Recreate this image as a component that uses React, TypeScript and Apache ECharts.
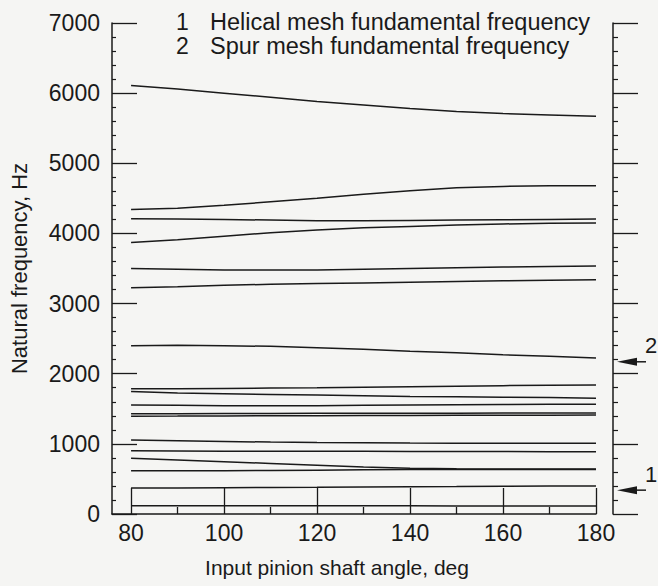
import React, { useEffect, useRef } from "react";
import * as echarts from "echarts";

const angles = [80, 90, 100, 110, 120, 130, 140, 150, 160, 170, 180];

const mode01 = [6110, 6060, 6000, 5940, 5880, 5830, 5780, 5740, 5710, 5690, 5670];
const mode02 = [4340, 4360, 4400, 4450, 4500, 4560, 4610, 4650, 4670, 4680, 4680];
const mode03 = [4210, 4205, 4200, 4190, 4180, 4180, 4185, 4190, 4195, 4200, 4205];
const mode04 = [3870, 3910, 3960, 4010, 4050, 4080, 4100, 4120, 4135, 4145, 4150];
const mode05 = [3500, 3490, 3480, 3480, 3480, 3490, 3500, 3510, 3520, 3530, 3535];
const mode06 = [3225, 3240, 3260, 3275, 3285, 3295, 3305, 3315, 3325, 3332, 3338];
const mode07 = [2400, 2405, 2400, 2390, 2370, 2350, 2320, 2300, 2270, 2250, 2225];
const mode08 = [1785, 1787, 1790, 1795, 1800, 1808, 1815, 1822, 1830, 1835, 1840];
const mode09 = [1745, 1725, 1715, 1705, 1695, 1685, 1675, 1670, 1665, 1660, 1650];
const mode10 = [1555, 1550, 1545, 1545, 1545, 1550, 1555, 1558, 1560, 1563, 1565];
const mode11 = [1430, 1430, 1432, 1434, 1435, 1436, 1437, 1438, 1439, 1440, 1440];
const mode12 = [1395, 1396, 1398, 1400, 1402, 1404, 1405, 1407, 1408, 1409, 1410];
const mode13 = [1056, 1045, 1035, 1025, 1018, 1015, 1012, 1010, 1009, 1008, 1008];
const mode14 = [900, 898, 896, 895, 894, 893, 892, 891, 890, 889, 889];
const mode15 = [795, 770, 745, 720, 695, 670, 652, 646, 643, 641, 640];
const mode16 = [615, 616, 618, 621, 625, 630, 635, 636, 635, 634, 633];
const mode17 = [370, 372, 375, 378, 380, 385, 390, 392, 395, 398, 400];
const mode18 = [118, 118, 117, 117, 116, 116, 116, 115, 115, 115, 115];

const modes = [
  mode01, mode02, mode03, mode04, mode05, mode06, mode07, mode08, mode09,
  mode10, mode11, mode12, mode13, mode14, mode15, mode16, mode17, mode18,
];

const majorXTicks = [80, 100, 120, 140, 160, 180];
const minorXTicks = [90, 110, 130, 150, 170];

const legendLines = [
  { num: "1", text: "Helical mesh fundamental frequency" },
  { num: "2", text: "Spur mesh fundamental frequency" },
];

const meshArrows = [
  { label: "1", value: 340 },
  { label: "2", value: 2170 },
];

const FONT = "'Liberation Sans', Arial, Helvetica, sans-serif";
const INK = "#1a1a1a";

export default function App() {
  const ref = useRef<HTMLDivElement>(null);

  useEffect(() => {
    if (!ref.current) return;
    const chart = echarts.init(ref.current, null, { renderer: "svg" });

    const series = modes.map((m, i) => ({
      type: "line",
      name: "mode" + (i + 1),
      xAxisIndex: 0,
      yAxisIndex: 0,
      data: angles.map((a, j) => [a, m[j]]),
      showSymbol: false,
      symbol: "none",
      lineStyle: { color: INK, width: 1.5 },
      silent: true,
    }));

    chart.setOption({
      animation: false,
      backgroundColor: "#f5f5f3",
      grid: { left: 112, top: 23, width: 484, height: 491 },
      xAxis: [
        {
          type: "value",
          min: 75.9,
          max: 180,
          position: "bottom",
          axisLine: { show: true, lineStyle: { color: INK, width: 1.5 } },
          axisTick: {
            show: true,
            inside: true,
            length: 26,
            customValues: majorXTicks,
            lineStyle: { color: INK, width: 1.3 },
          },
          axisLabel: {
            show: true,
            customValues: majorXTicks,
            fontSize: 23,
            fontFamily: FONT,
            color: INK,
            margin: 7,
          },
          splitLine: { show: false },
          name: "Input pinion shaft angle, deg",
          nameLocation: "middle",
          nameGap: 43,
          nameTextStyle: {
            fontSize: 21,
            fontFamily: FONT,
            color: INK,
            padding: [0, 34, 0, 0],
          },
        },
        {
          type: "value",
          min: 75.9,
          max: 180,
          position: "bottom",
          axisLine: { show: false },
          axisTick: {
            show: true,
            inside: true,
            length: 7,
            customValues: minorXTicks,
            lineStyle: { color: INK, width: 1.3 },
          },
          axisLabel: { show: false },
          splitLine: { show: false },
        },
      ],
      yAxis: [
        {
          type: "value",
          min: 0,
          max: 7000,
          interval: 1000,
          position: "left",
          axisLine: { show: true, lineStyle: { color: INK, width: 1.5 } },
          axisTick: { show: true, inside: true, length: 25, lineStyle: { color: INK, width: 1.3 } },
          minorTick: { show: true, splitNumber: 5, length: 4, lineStyle: { color: INK, width: 1.2 } },
          axisLabel: {
            fontSize: 23,
            fontFamily: FONT,
            color: INK,
            margin: 12,
            formatter: (v: number) => String(v),
          },
          splitLine: { show: false },
          name: "Natural frequency, Hz",
          nameLocation: "middle",
          nameGap: 82,
          nameTextStyle: { fontSize: 22, fontFamily: FONT, color: INK },
        },
        {
          type: "value",
          min: 0,
          max: 7000,
          interval: 1000,
          position: "right",
          offset: 17,
          axisLine: { show: true, lineStyle: { color: INK, width: 1.5 } },
          axisTick: { show: true, inside: false, length: 25, lineStyle: { color: INK, width: 1.3 } },
          minorTick: { show: true, splitNumber: 5, length: 5, lineStyle: { color: INK, width: 1.2 } },
          axisLabel: { show: false },
          splitLine: { show: false },
        },
      ],
      series,
    });

    const rightAxisX = 613;
    const graphics: any[] = [];
    legendLines.forEach((l, i) => {
      const y = 21 + i * 24;
      graphics.push({
        type: "text",
        left: 176,
        top: y - 11,
        style: { text: l.num, fontSize: 23, lineHeight: 22, fontFamily: FONT, fill: INK },
        silent: true,
      });
      graphics.push({
        type: "text",
        left: 210,
        top: y - 11,
        style: { text: l.text, fontSize: 23.5, lineHeight: 22, fontFamily: FONT, fill: INK },
        silent: true,
      });
    });
    meshArrows.forEach((a) => {
      const y = chart.convertToPixel({ yAxisIndex: 0 }, a.value) as number;
      graphics.push({
        type: "polygon",
        shape: {
          points: [
            [rightAxisX + 4, y],
            [rightAxisX + 24, y - 4],
            [rightAxisX + 24, y + 4],
          ],
        },
        style: { fill: INK },
        silent: true,
      });
      graphics.push({
        type: "line",
        shape: { x1: rightAxisX + 20, y1: y, x2: rightAxisX + 33, y2: y },
        style: { stroke: INK, lineWidth: 1.5 },
        silent: true,
      });
      graphics.push({
        type: "text",
        left: rightAxisX + 32,
        top: y - 27,
        style: { text: a.label, fontSize: 22, lineHeight: 22, fontFamily: FONT, fill: INK },
        silent: true,
      });
    });
    chart.setOption({ graphic: graphics });

    return () => chart.dispose();
  }, []);

  return (
    <div
      ref={ref}
      style={{ position: "fixed", left: 0, top: 0, width: 658, height: 586 }}
    />
  );
}
